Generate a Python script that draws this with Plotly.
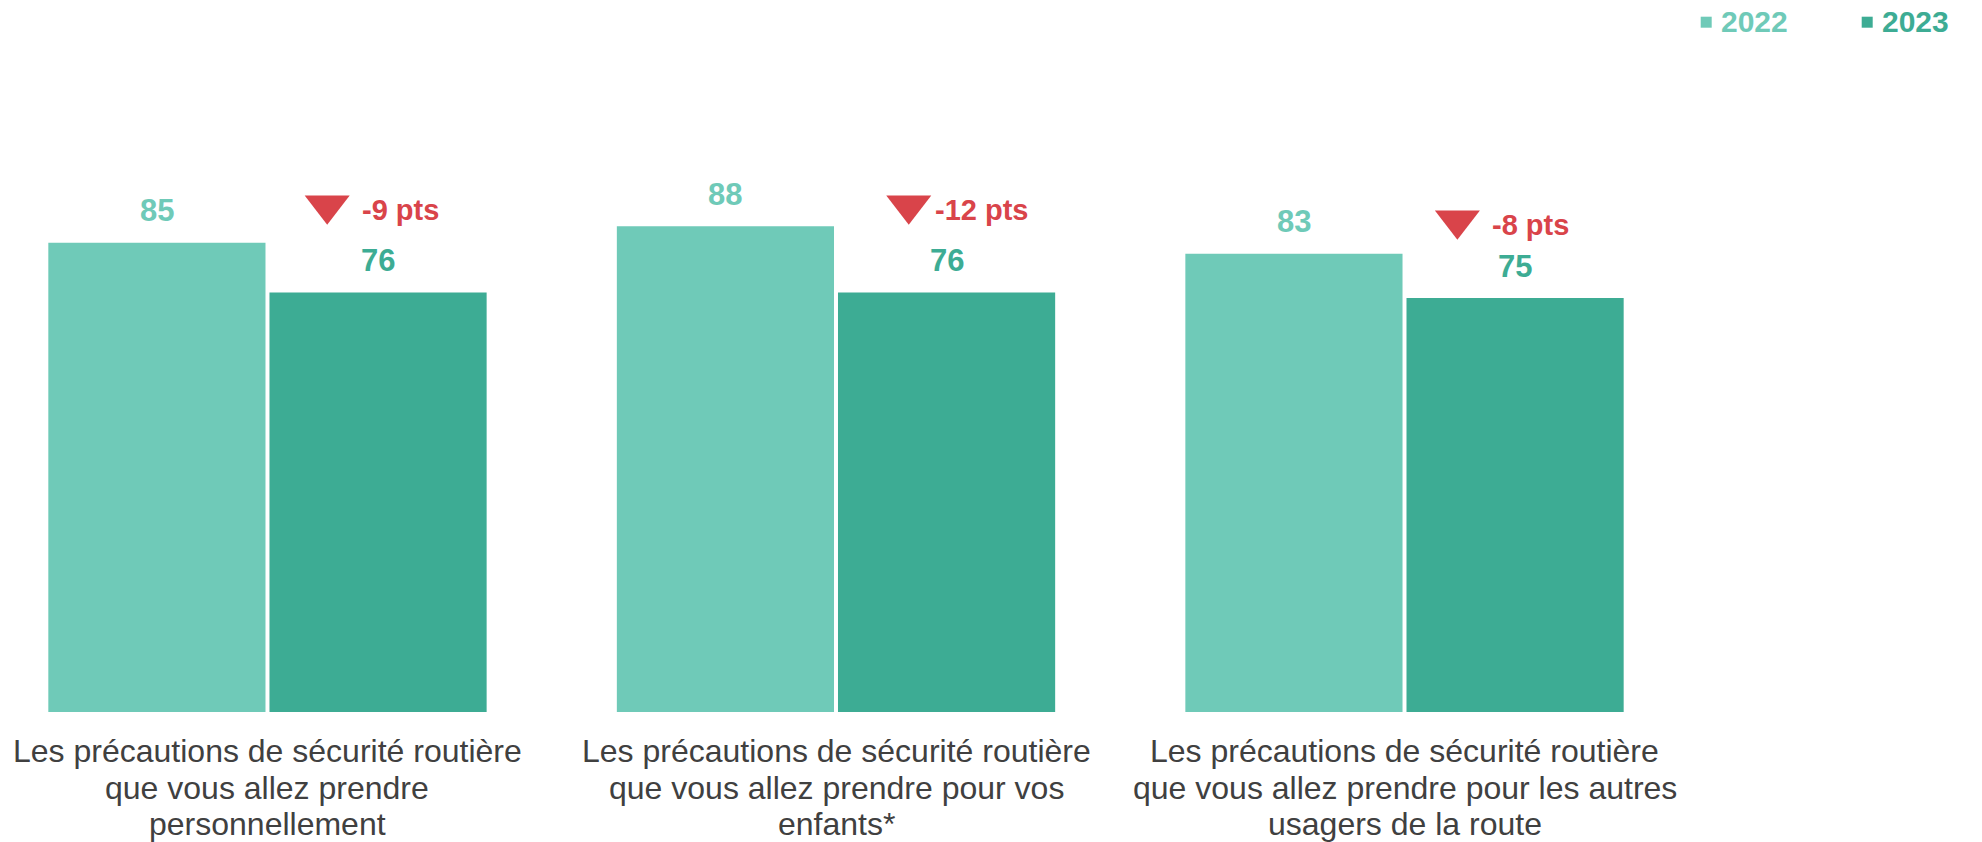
import plotly.graph_objects as go

# ---- data ----
categories = [
    "Les précautions de sécurité routière<br>que vous allez prendre<br>personnellement",
    "Les précautions de sécurité routière<br>que vous allez prendre pour vos<br>enfants*",
    "Les précautions de sécurité routière<br>que vous allez prendre pour les autres<br>usagers de la route",
]
years = ["2022", "2023"]
values_2022 = [85, 88, 83]
values_2023 = [76, 76, 75]
diff_labels = ["-9 pts", "-12 pts", "-8 pts"]

# ---- styles / positions ----
C22 = "#6FCAB8"
C23 = "#3DAC94"
RED = "#D9444A"
TXT = "#404040"
FONT = "Arial, Liberation Sans, sans-serif"

W, H = 1982, 842
M_T, M_B = 160, 130
PLOT_H = H - M_T - M_B
xs = list(range(len(categories)))
BAR_OFF = 0.1944

tri_dx = [0.105, 0.128, 0.093]
tri_y = [91.8, 91.8, 89.1]
lab_dx = [0.1635, 0.1705, 0.1512]
lab_y = [91.0, 91.0, 88.3]

LINE_SHIFTS = [-39, -75.5, -112]   # vertical offsets (px) of category label lines below the baseline

fig = go.Figure()
fig.add_trace(go.Bar(x=xs, y=values_2022, name=years[0], marker=dict(color=C22, line=dict(width=0)),
                     hoverinfo="skip"))
fig.add_trace(go.Bar(x=xs, y=values_2023, name=years[1], marker=dict(color=C23, line=dict(width=0)),
                     hoverinfo="skip"))

# decline triangles
fig.add_trace(go.Scatter(
    x=[i + d for i, d in zip(xs, tri_dx)], y=tri_y, mode="markers",
    marker=dict(symbol="triangle-down", size=39, color=RED, line=dict(width=0)),
    hoverinfo="skip", showlegend=False,
))

annotations = []
for i, (v1, v2) in enumerate(zip(values_2022, values_2023)):
    annotations.append(dict(x=i - BAR_OFF, y=v1, xref="x", yref="y", text=f"<b>{v1}</b>",
                            showarrow=False, yanchor="middle", yshift=32,
                            font=dict(family=FONT, size=31, color=C22)))
    annotations.append(dict(x=i + BAR_OFF, y=v2, xref="x", yref="y", text=f"<b>{v2}</b>",
                            showarrow=False, yanchor="middle", yshift=32,
                            font=dict(family=FONT, size=31, color=C23)))
    annotations.append(dict(x=i + lab_dx[i], y=lab_y[i], xref="x", yref="y",
                            text=f"<b>{diff_labels[i]}</b>", showarrow=False,
                            xanchor="left", yanchor="middle",
                            font=dict(family=FONT, size=29, color=RED)))

# category labels (one annotation per line for tighter line spacing)
for i, cat in enumerate(categories):
    for j, line in enumerate(cat.split("<br>")):
        annotations.append(dict(x=i, y=0, xref="x", yref="y", text=line, showarrow=False,
                                xanchor="center", yanchor="middle", yshift=LINE_SHIFTS[j],
                                font=dict(family=FONT, size=32, color=TXT)))

# legend (custom, colored text)
def py(p):
    return (H - M_B - p) / PLOT_H

shapes = []
for sx, col, tx, yr in [(1700.7, C22, 1719, years[0]), (1861.7, C23, 1880, years[1])]:
    shapes.append(dict(type="rect", xref="paper", yref="paper",
                       x0=sx / W, x1=(sx + 11) / W, y0=py(27.7), y1=py(16.7),
                       fillcolor=col, line=dict(width=0)))
    annotations.append(dict(x=tx / W, y=py(21.5), xref="paper", yref="paper", text=f"<b>{yr}</b>",
                            showarrow=False, xanchor="left", yanchor="middle",
                            font=dict(family=FONT, size=30, color=col)))

fig.update_layout(
    width=W, height=H,
    margin=dict(l=0, r=0, t=M_T, b=M_B, pad=0, autoexpand=False),
    paper_bgcolor="white", plot_bgcolor="white",
    barmode="group", bargap=0.222, bargroupgap=0.018,
    showlegend=False,
    xaxis=dict(range=[-0.4705, 3.0158], tickmode="array", tickvals=xs, showticklabels=False,
               showgrid=False, zeroline=False, showline=False, ticks="", automargin=False),
    yaxis=dict(range=[0, 100], visible=False, showgrid=False, zeroline=False, automargin=False),
    annotations=annotations, shapes=shapes,
    hovermode=False,
)

fig.write_html("out.html", config={"displayModeBar": False},
               post_script="document.body.style.margin='0';document.body.style.overflow='hidden';")
